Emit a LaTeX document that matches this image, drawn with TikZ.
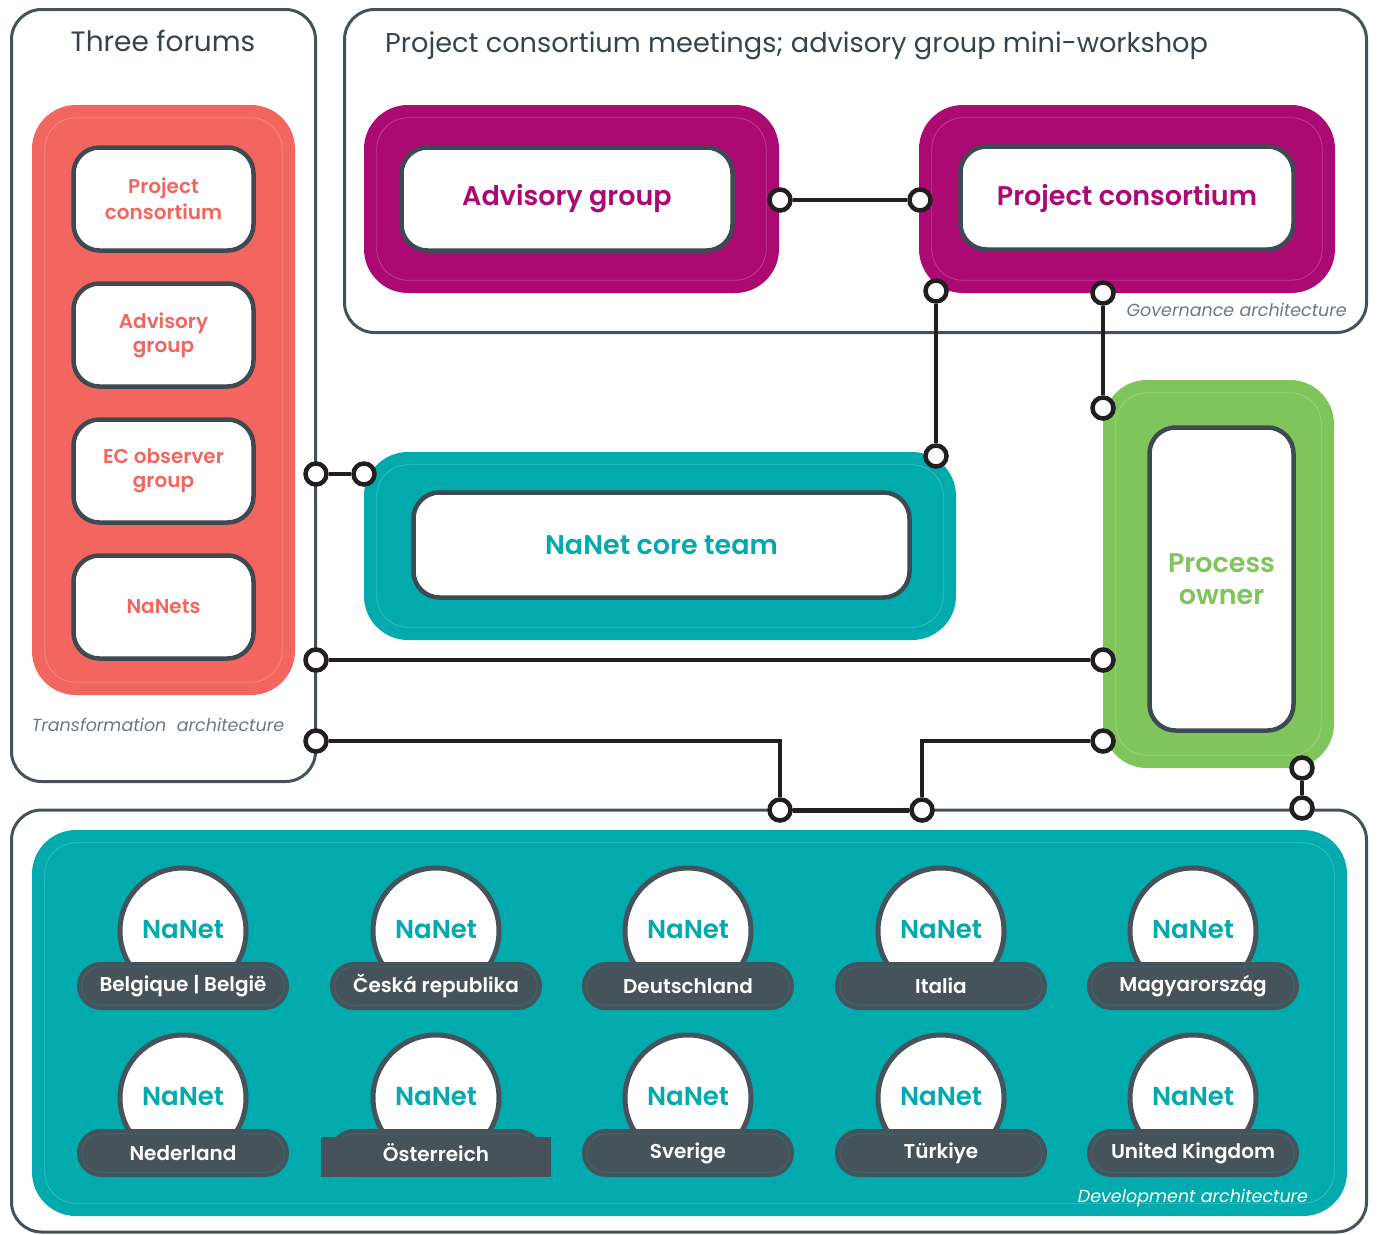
\documentclass[tikz,border=0pt]{standalone}
\usepackage{fontspec}
\IfFontExistsTF{Poppins SemiBold}
    {\setmainfont{Poppins}[BoldFont={Poppins SemiBold}]}
    {\setmainfont{Poppins}}
\usepackage{tikz}
\usetikzlibrary{shapes, arrows, positioning}

\definecolor{framegray}{HTML}{46525A}
\definecolor{cardedge}{HTML}{3E4A52}
\definecolor{wireblack}{HTML}{231F20}
\definecolor{forumred}{HTML}{F2665F}
\definecolor{govmagenta}{HTML}{AB0A72}
\definecolor{nanetteal}{HTML}{00AAAD}
\definecolor{ownergreen}{HTML}{80C45C}
\definecolor{pillgray}{HTML}{47535B}
\definecolor{notegray}{HTML}{6E7880}
\definecolor{titlegray}{HTML}{37434B}

\newcommand{\fs}[1]{\fontsize{#1}{#1}\selectfont}

\begin{document}
\begin{tikzpicture}[x=1pt,y=-1pt]
            \tikzstyle{every node}=[inner sep=0pt]
            \tikzstyle{forum}=[draw=framegray, line width=3pt, rounded corners=30pt]
            \tikzstyle{panel}=[rectangle, rounded corners=44pt]
            \tikzstyle{rim}=[draw=white, draw opacity=0.22, line width=0.8pt, rounded corners=31pt]
            \tikzstyle{card}=[rectangle, draw=cardedge, line width=4.5pt, fill=white, rounded corners=26pt, align=center]
            \tikzstyle{portdot}=[circle, draw=wireblack, line width=4.5pt, fill=white, minimum size=21pt]
            \tikzstyle{link}=[draw=wireblack, line width=3.5pt]
            \tikzstyle{note}=[font=\fs{17.5}\itshape, text=notegray]
            \tikzstyle{globe}=[circle, draw=pillgray, line width=5pt, fill=white, minimum size=126pt, text=nanetteal, font=\fs{26}\bfseries]
            \tikzstyle{pill}=[rectangle, rounded corners=24pt, fill=pillgray, minimum width=212pt, minimum height=48pt]
            \useasboundingbox (0,0) rectangle (1377,1235);

            % the three frames
            \draw[forum] (11.5,9.5) rectangle (315.5,781.5);
            \draw[forum] (344.5,9.5) rectangle (1366.5,332.5);
            \draw[forum] (11.5,810) rectangle (1366.5,1232);
            \node[font=\fs{28}, text=titlegray] (forumtitle) at (163,41) {Three forums};
            \node[anchor=west, font=\fs{27.2}, text=titlegray] (meettitle) at (385,46) {Project consortium meetings; advisory group mini-workshop};

            % coloured panels
            \node[panel, fill=forumred, minimum width=263pt, minimum height=590pt] (forums) at (163.5,400) {};
            \node[panel, fill=govmagenta, minimum width=415pt, minimum height=188pt] (advpanel) at (571.5,199) {};
            \node[panel, fill=govmagenta, minimum width=416pt, minimum height=188pt] (pcpanel) at (1127,199) {};
            \node[panel, fill=nanetteal, minimum width=592pt, minimum height=188pt] (corepanel) at (660,546) {};
            \node[panel, fill=ownergreen, minimum width=231pt, minimum height=388pt] (ownerpanel) at (1218.5,574) {};
            \node[panel, fill=nanetteal, minimum width=1315pt, minimum height=386pt] (devpanel) at (689.5,1023) {};
            \foreach \p in {forums, advpanel, pcpanel, corepanel, ownerpanel, devpanel}
                \draw[rim] ([shift={(13,13)}]\p.north west) rectangle ([shift={(-13,-13)}]\p.south east);

            % forum cards
            \node[card, minimum width=180pt, minimum height=103pt, text=forumred, font=\fs{20}\bfseries] (fpc) at (163.5,199) {Project\\[4pt]consortium};
            \node[card, minimum width=180pt, minimum height=103pt, text=forumred, font=\fs{20}\bfseries] (fag) at (163.5,335) {Advisory\\[4pt]group};
            \node[card, minimum width=180pt, minimum height=103pt, text=forumred, font=\fs{20}\bfseries] (fec) at (163.5,471) {EC observer\\[4pt]group};
            \node[card, minimum width=180pt, minimum height=103pt, text=forumred, font=\fs{20}\bfseries] (fnn) at (163.5,607) {NaNets};

            % governance and core cards
            \node[card, minimum width=331pt, minimum height=103pt, text=govmagenta, font=\fs{27}\bfseries] (advisory) at (567,199) {Advisory group};
            \node[card, minimum width=333pt, minimum height=103pt, text=govmagenta, font=\fs{27}\bfseries] (consortium) at (1127,198) {Project consortium};
            \node[card, minimum width=496pt, minimum height=105pt, text=nanetteal, font=\fs{27}\bfseries] (coreteam) at (661.5,545) {NaNet core team};
            \node[card, minimum width=144pt, minimum height=303pt, text=ownergreen, font=\fs{27}\bfseries] (owner) at (1221.5,579) {Process\\[5pt]owner};

            % national networks
            \foreach \n/\cx/\cy in {1/183/931, 2/436/931, 3/688/931, 4/941/931, 5/1193/931,
                                     6/183/1098, 7/436/1098, 8/688/1098, 9/941/1098, 10/1193/1098}{
                \node[globe] (nanet\n) at (\cx,\cy) {\raisebox{3pt}{NaNet}};
                \node[pill] (land\n) at (\cx,\cy+55) {};
                \draw[draw=nanetteal!40!pillgray, line width=0.6pt, rounded corners=19pt]
                    ([shift={(5,5)}]land\n.north west) rectangle ([shift={(-5,-5)}]land\n.south east);
            }
            \fill[pillgray] (321,1137) rectangle (551,1177);
            \foreach \n/\cname in {1/Belgique | België, 2/Česká republika, 3/Deutschland, 4/Italia, 5/Magyarország,
                                    6/Nederland, 7/Österreich, 8/Sverige, 9/Türkiye, 10/United Kingdom}
                \node[text=white, font=\fs{20}\bfseries] (name\n) at (land\n) {\cname};

            % architecture labels
            \node[note, anchor=east] (govlabel) at (1347,310) {Governance architecture};
            \node[note] (translabel) at (158,725) {Transformation\hspace{0.3em} architecture};
            \node[note, text=white] (devlabel) at (1193,1198) {Development architecture};

            % ports
            \node[portdot] (p1) at (316,474) {};
            \node[portdot] (p2) at (364,474) {};
            \node[portdot] (p3) at (780,200) {};
            \node[portdot] (p4) at (920,200) {};
            \node[portdot] (p5) at (936,291) {};
            \node[portdot] (p6) at (936,456) {};
            \node[portdot] (p7) at (1103,293) {};
            \node[portdot] (p8) at (1103,408) {};
            \node[portdot] (p9) at (316,660) {};
            \node[portdot] (p10) at (1103,660) {};
            \node[portdot] (p11) at (316,741) {};
            \node[portdot] (p12) at (780,810) {};
            \node[portdot] (p13) at (1103,741) {};
            \node[portdot] (p14) at (922,810) {};
            \node[portdot] (p15) at (1302,768) {};
            \node[portdot] (p16) at (1302,808) {};

            % links
            \draw[link] (p1) -- (p2);
            \draw[link] (p3) -- (p4);
            \draw[link] (p5) -- (p6);
            \draw[link] (p7) -- (p8);
            \draw[link] (p9) -- (p10);
            \draw[link] (p11) -| (p12);
            \draw[link] (p13) -| (p14);
            \draw[link, line width=5pt] (p12) -- (p14);
            \draw[link] (p15) -- (p16);
\end{tikzpicture}
\end{document}
